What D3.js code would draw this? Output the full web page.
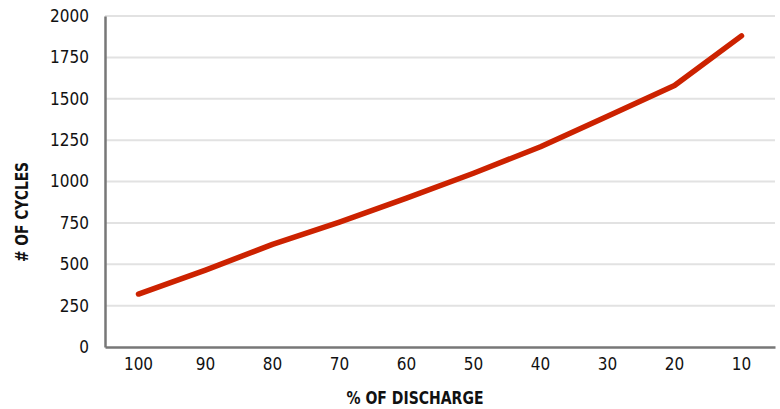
<!DOCTYPE html>
<html>
<head>
<meta charset="utf-8">
<script src="https://cdn.jsdelivr.net/npm/d3@7"></script>
<style>
  body { margin: 0; background: #fff; }
  svg text { font-family: "DejaVu Sans Condensed", "Liberation Sans Narrow", sans-serif; }
</style>
</head>
<body>
<div id="graph-container"></div>
<script>
const width = 780, height = 409;
const margin = {top: 16, right: 5, bottom: 62, left: 105};

const discharge = ["100", "90", "80", "70", "60", "50", "40", "30", "20", "10"];
const cycles = [320, 465, 620, 755, 900, 1050, 1210, 1395, 1580, 1880];
const yTicks = [0, 250, 500, 750, 1000, 1250, 1500, 1750, 2000];

const data = discharge.map((d, i) => ({ pct: d, n: cycles[i] }));

const x = d3.scaleBand()
  .domain(discharge)
  .range([margin.left, width - margin.right]);

const y = d3.scaleLinear()
  .domain([0, 2000])
  .range([height - margin.bottom, margin.top]);

const svg = d3.select("#graph-container").append("svg")
  .attr("width", width)
  .attr("height", height)
  .attr("viewBox", [0, 0, width, height]);

// gridlines
svg.append("g")
  .selectAll("line")
  .data(yTicks.slice(1))
  .join("line")
  .attr("x1", margin.left)
  .attr("x2", width - margin.right)
  .attr("y1", d => y(d))
  .attr("y2", d => y(d))
  .attr("stroke", "#e2e2e2")
  .attr("stroke-width", 2);

// y axis
const gy = svg.append("g")
  .attr("transform", `translate(${margin.left},0)`)
  .call(d3.axisLeft(y).tickValues(yTicks).tickFormat(d3.format("d")).tickSize(0).tickPadding(16));
gy.select(".domain").attr("stroke", "#777").attr("stroke-width", 2.5);
gy.selectAll("text").attr("font-size", 17).attr("fill", "#111");

// x axis
const gx = svg.append("g")
  .attr("transform", `translate(0,${height - margin.bottom})`)
  .call(d3.axisBottom(x).tickSize(0).tickPadding(11));
gx.select(".domain").attr("stroke", "#777").attr("stroke-width", 2.5);
gx.selectAll("text").attr("font-size", 17).attr("fill", "#111");

// line
const line = d3.line()
  .x(d => x(d.pct) + x.bandwidth() / 2)
  .y(d => y(d.n));

svg.append("path")
  .datum(data)
  .attr("fill", "none")
  .attr("stroke", "#cc2200")
  .attr("stroke-width", 5.5)
  .attr("stroke-linecap", "round")
  .attr("stroke-linejoin", "round")
  .attr("d", line);

// axis titles
svg.append("text")
  .attr("x", 415)
  .attr("y", 404)
  .attr("text-anchor", "middle")
  .attr("font-size", 18)
  .attr("font-weight", "bold")
  .attr("fill", "#111")
  .attr("textLength", 137)
  .attr("lengthAdjust", "spacingAndGlyphs")
  .text("% OF DISCHARGE");

svg.append("text")
  .attr("transform", "translate(28,212) rotate(-90)")
  .attr("text-anchor", "middle")
  .attr("font-size", 18)
  .attr("font-weight", "bold")
  .attr("fill", "#111")
  .attr("textLength", 100)
  .attr("lengthAdjust", "spacingAndGlyphs")
  .text("# OF CYCLES");
</script>
</body>
</html>
